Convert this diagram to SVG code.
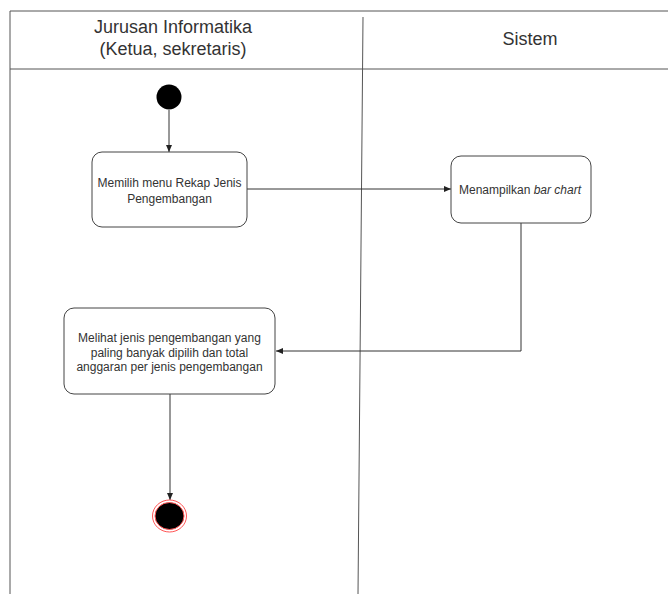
<svg xmlns="http://www.w3.org/2000/svg" width="668" height="594" viewBox="0 0 668 594">
<defs>
<style>
.lane{stroke:#555;stroke-width:1;fill:none}
.box{fill:#fff;stroke:#444;stroke-width:1}
.conn{stroke:#333;stroke-width:1;fill:none}
.hdr{font-family:"Liberation Sans",Arial,sans-serif;font-size:18px;fill:#333;text-anchor:middle}
.lbl{font-family:"Liberation Sans",Arial,sans-serif;font-size:12px;fill:#333;text-anchor:middle}
</style>
<marker id="arr" markerWidth="8" markerHeight="8" refX="7" refY="4" orient="auto" markerUnits="userSpaceOnUse">
<path d="M0,1 L7,4 L0,7 Z" fill="#222"/>
</marker>
</defs>
<rect width="668" height="594" fill="#fff"/>
<g id="swimlanes">
<line class="lane" x1="10" y1="11" x2="668" y2="11"/>
<line class="lane" x1="10" y1="69" x2="668" y2="69"/>
<line class="lane" x1="10" y1="11" x2="10" y2="594"/>
<line class="lane" x1="363" y1="17" x2="358" y2="594"/>
<text class="hdr" x="173" y="33">Jurusan Informatika</text>
<text class="hdr" x="173" y="55">(Ketua, sekretaris)</text>
<text class="hdr" x="530" y="45">Sistem</text>
</g>
<g id="connectors">
<line class="conn" x1="169" y1="110" x2="169" y2="152" marker-end="url(#arr)"/>
<line class="conn" x1="247" y1="189" x2="451" y2="189" marker-end="url(#arr)"/>
<polyline class="conn" points="521,223 521,351 276,351" marker-end="url(#arr)"/>
<line class="conn" x1="170" y1="394" x2="170" y2="500" marker-end="url(#arr)"/>
</g>
<g id="start">
<circle cx="169" cy="97" r="12.5" fill="#000"/>
</g>
<g id="node1">
<rect class="box" x="92" y="152" width="155" height="75" rx="10" ry="10"/>
<text class="lbl" x="169.5" y="187">Memilih menu Rekap Jenis</text>
<text class="lbl" x="169.5" y="203">Pengembangan</text>
</g>
<g id="node2">
<rect class="box" x="451" y="156" width="140" height="67" rx="10" ry="10"/>
<text class="lbl" x="520" y="194">Menampilkan <tspan font-style="italic">bar chart</tspan></text>
</g>
<g id="node3">
<rect class="box" x="64" y="308" width="211" height="86" rx="10" ry="10"/>
<text class="lbl" x="169.5" y="342">Melihat jenis pengembangan yang</text>
<text class="lbl" x="169.5" y="356.5">paling banyak dipilih dan total</text>
<text class="lbl" x="169.5" y="371">anggaran per jenis pengembangan</text>
</g>
<g id="end">
<ellipse cx="169.5" cy="516" rx="17" ry="16" fill="#fff" stroke="#ff5555" stroke-width="1"/>
<ellipse cx="169.5" cy="516" rx="14.5" ry="13.5" fill="#000" stroke="#ff5555" stroke-width="1"/>
</g>
</svg>
